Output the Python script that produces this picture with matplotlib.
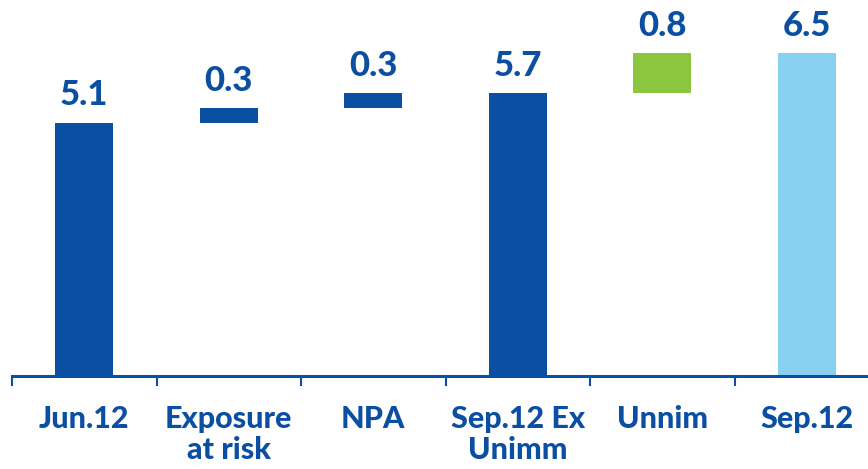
import numpy as np
import matplotlib.pyplot as plt

categories = ["Jun.12", "Exposure\nat risk", "NPA", "Sep.12 Ex\nUnimm", "Unnim", "Sep.12"]
changes = [5.1, 0.3, 0.3, 5.7, 0.8, 6.5]
is_total = [True, False, False, True, False, True]
bar_colors = ["#0b4fa3", "#0b4fa3", "#0b4fa3", "#0b4fa3", "#8cc63f", "#89d1f1"]

dark = "#0b4fa3"
plt.rcParams['font.family'] = ['Lato', 'DejaVu Sans']

fig = plt.figure(figsize=(8.68, 4.69), dpi=100)
ax = fig.add_axes([12 / 868, 1 - 376 / 469, 1 - 12 / 868, 376 / 469])

# waterfall bottoms
bottoms = []
running = 0.0
for v, tot in zip(changes, is_total):
    if tot:
        bottoms.append(0.0)
        running = v
    else:
        bottoms.append(running)
        running += v
bottoms = np.array(bottoms)
x = np.arange(len(categories))

ax.bar(x, changes, bottom=bottoms, width=0.4, color=bar_colors, zorder=2)
for xi, b, v in zip(x, bottoms, changes):
    ax.annotate(f"{v:.1f}", (xi, b + v), xytext=(0, 8), textcoords="offset points",
                ha="center", va="bottom", fontsize=25, fontweight="black", color=dark)

for s in ["top", "right", "left"]:
    ax.spines[s].set_visible(False)
ax.spines["bottom"].set_color(dark)
ax.spines["bottom"].set_linewidth(2.2)
ax.set_yticks([])

ax.set_xticks(x)
ax.set_xticklabels(categories, fontsize=22, fontweight="black", color=dark, linespacing=1.12)
ax.tick_params(axis="x", which="major", length=0, pad=21)
ax.set_xticks(np.arange(len(categories) + 1) - 0.5, minor=True)
ax.tick_params(axis="x", which="minor", length=7, width=1.5, color=dark)

# limits after ticks, otherwise set_xticks widens them
ax.set_ylim(0, 376 / 49.7)
ax.set_xlim(-0.5, 856 / 144.5 - 0.5)

fig.savefig("out.png", dpi=100)
